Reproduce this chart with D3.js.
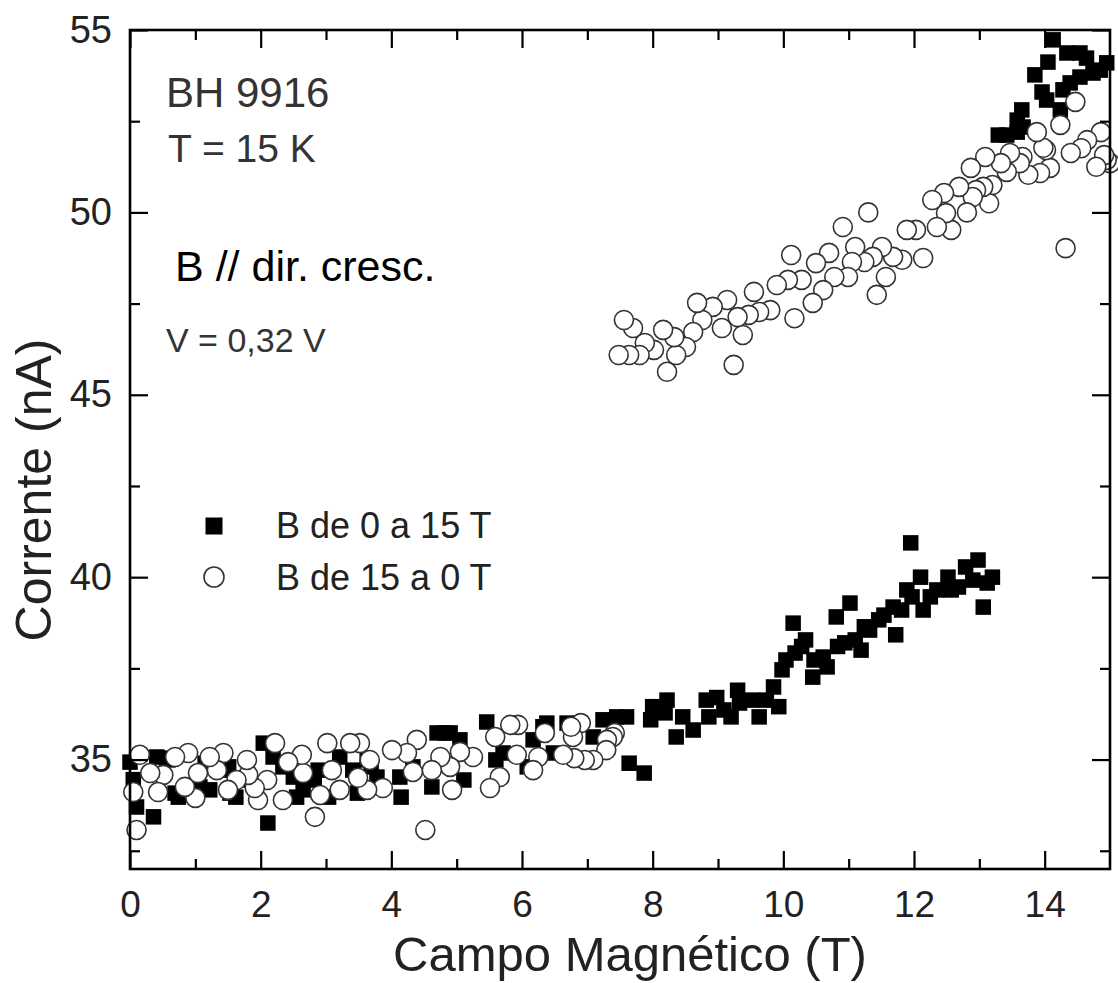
<!DOCTYPE html>
<html lang="pt">
<head>
    <meta charset="UTF-8">
    <title>Corrente x Campo Magnético</title>
    <script src="https://d3js.org/d3.v7.min.js"></script>
    <style>
        body { margin: 0; background: #fff; }
        text { font-family: "Liberation Sans", Arial, Helvetica, sans-serif; }
    </style>
</head>
<body>
<script>
    // B de 0 a 15 T (quadrados cheios)
    var subidaX = [0.00, 0.05, 0.10, 0.36, 0.41, 0.56, 0.58, 0.69, 0.74, 0.87, 1.07, 1.15, 1.22, 1.38, 1.51, 1.53, 1.62, 1.79,
        2.04, 2.11, 2.19, 2.34, 2.50, 2.55, 2.65, 2.82, 2.88, 3.04, 3.21, 3.41, 3.48, 3.63, 3.69, 3.78, 4.13, 4.15, 4.33,
        4.62, 4.70, 4.82, 4.90, 5.05, 5.11, 5.46, 5.60, 5.71, 6.08, 6.17, 6.32, 6.38, 6.48, 6.69, 6.89, 7.09, 7.24, 7.45,
        7.60, 7.64, 7.87, 7.97, 8.00, 8.19, 8.22, 8.36, 8.46, 8.62, 8.82, 8.86, 8.98, 9.09, 9.20, 9.30, 9.33, 9.52, 9.63,
        9.74, 9.85, 9.93, 9.98, 10.04, 10.15, 10.18, 10.28, 10.34, 10.45, 10.47, 10.61, 10.67, 10.81, 10.83, 10.94, 11.02,
        11.10, 11.19, 11.24, 11.32, 11.46, 11.54, 11.68, 11.72, 11.81, 11.89, 11.95, 11.97, 12.10, 12.14, 12.25, 12.35,
        12.52, 12.57, 12.68, 12.79, 12.90, 12.98, 13.06, 13.12, 13.20,
        13.29, 13.42, 13.58, 13.58, 13.65, 13.67, 13.85, 13.96, 14.03, 14.05, 14.13, 14.24, 14.28, 14.34, 14.39, 14.54,
        14.54, 14.64, 14.74, 14.85, 14.95];
    var subidaY = [34.93, 34.45, 33.70, 33.43, 35.07, 35.04, 34.99, 34.08, 33.97, 34.25, 34.25, 34.90, 34.17, 34.71, 34.80, 34.08, 33.97, 34.44,
        35.45, 33.26, 35.07, 34.80, 34.52, 33.97, 34.17, 34.44, 34.71, 33.97, 35.07, 34.71, 34.08, 34.99, 34.80, 34.52, 34.52, 33.97, 34.80,
        34.25, 35.73, 35.73, 35.73, 35.54, 34.44, 36.03, 34.99, 35.18, 34.80, 35.54, 35.90, 36.00, 35.18, 36.00, 36.00, 35.62, 36.09, 36.17,
        36.17, 34.90, 34.63, 36.09, 36.45, 36.28, 36.63, 35.62, 36.17, 35.81, 36.63, 36.17, 36.70, 36.36, 36.17, 36.90, 36.55, 36.63, 36.17,
        36.63, 36.99, 36.45, 37.46, 37.73, 38.74, 37.92, 38.10, 38.28, 37.26, 37.73, 37.81, 37.54, 38.91, 38.10, 38.20, 39.29,
        38.28, 38.00, 38.64, 38.55, 38.83, 38.96, 39.18, 38.42, 39.10, 39.65, 40.94, 39.46, 40.00, 39.10, 39.46, 39.65,
        40.00, 39.65, 39.73, 40.28, 39.92, 40.47, 39.18, 39.84, 40.00,
        52.12, 52.12, 52.20, 52.53, 52.81, 52.34, 53.77, 53.30, 53.08, 54.12, 54.73, 52.81, 53.36, 54.37, 53.55, 54.37,
        53.71, 54.23, 53.82, 53.90, 54.10];

    // B de 15 a 0 T (círculos abertos)
    var descidaX = [15.00, 14.95, 14.91, 14.86, 14.79, 14.65, 14.56, 14.47, 14.40, 14.32, 14.24, 14.08, 14.02, 13.98, 13.93,
        13.88, 13.75, 13.66, 13.62, 13.47, 13.42, 13.33, 13.20, 13.15, 13.09, 13.06, 12.95, 12.90, 12.87, 12.81, 12.69,
        12.57, 12.49, 12.46, 12.35, 12.28, 12.14, 12.03, 11.89, 11.82, 11.68, 11.57, 11.51, 11.43, 11.37, 11.30, 11.24,
        11.10, 11.05, 10.99, 10.91, 10.78, 10.70, 10.61, 10.50, 10.45, 10.28, 10.17, 10.12, 10.07, 9.90, 9.80, 9.63, 9.55,
        9.47, 9.38, 9.30, 9.24, 9.14, 9.06, 8.92, 8.76, 8.68, 8.62, 8.51, 8.36, 8.33, 8.22, 8.16, 8.02, 7.88, 7.80, 7.70,
        7.64, 7.56, 7.48,
        7.42, 7.39, 7.30, 7.29, 7.09, 6.96, 6.90, 6.80, 6.78, 6.75, 6.63, 6.35, 6.25, 6.17, 5.94, 5.92, 5.82, 5.66, 5.59,
        5.51, 5.25, 5.05, 4.93, 4.90, 4.75, 4.62, 4.52, 4.39, 4.33, 4.24, 4.01, 3.87, 3.67, 3.63, 3.52, 3.49, 3.37, 3.21,
        3.09, 3.02, 2.91, 2.83, 2.65, 2.63, 2.42, 2.34, 2.22, 2.10, 1.96, 1.91, 1.81, 1.79, 1.63, 1.50, 1.43, 1.33, 1.22,
        1.04, 1.00, 0.89, 0.84, 0.69, 0.51, 0.43, 0.31, 0.15, 0.10, 0.05];
    var descidaY = [51.35, 51.44, 51.57, 52.20, 51.25, 51.98, 51.76, 53.03, 51.63, 49.02, 52.40, 51.22, 51.71, 51.77, 51.08,
        52.20, 51.03, 51.52, 51.35, 51.63, 51.11, 51.35, 50.75, 50.25, 51.52, 50.70, 50.61, 50.42, 51.22, 50.00, 50.70,
        49.52, 49.98, 50.53, 49.60, 50.34, 48.75, 49.52, 49.52, 48.70, 48.78, 48.23, 49.05, 47.74, 48.78, 50.00, 48.64,
        49.05, 48.64, 48.23, 49.60, 48.23, 48.89, 47.87, 48.61, 47.52, 48.15, 47.10, 48.83, 48.15, 48.01, 47.32, 47.27, 47.82,
        47.19, 46.64, 47.13, 45.82, 47.60, 46.83, 47.41, 47.05, 47.52, 46.72, 46.31, 46.09, 46.58, 45.63, 46.78, 46.23, 46.42, 46.09, 46.83,
        46.09, 47.05, 46.09,
        35.73, 35.62, 35.54, 35.26, 34.99, 34.99, 36.00, 35.04, 35.62, 35.90, 35.13, 35.73, 35.07, 34.71, 35.95, 35.13, 35.95, 34.52, 35.62,
        34.22, 35.07, 35.21, 34.17, 34.80, 35.07, 34.71, 33.07, 35.54, 34.66, 35.18, 35.26, 34.22, 34.99, 34.17, 35.45, 34.50, 35.45, 34.17,
        34.71, 35.45, 34.03, 33.43, 34.63, 35.13, 34.93, 33.89, 35.45, 34.44, 33.89, 34.22, 34.58, 34.99, 34.44, 34.17, 35.18, 34.71, 35.07,
        34.63, 33.95, 35.18, 34.25, 35.07, 34.58, 34.11, 34.63, 35.13, 33.07, 34.11];

    // marcas dos eixos
    var ticksX = [0, 2, 4, 6, 8, 10, 12, 14];
    var ticksXMenor = [1, 3, 5, 7, 9, 11, 13];
    var ticksY = [35, 40, 45, 50, 55];
    var ticksYMenor = [32.5, 37.5, 42.5, 47.5, 52.5];

    // textos
    var tituloX = 'Campo Magnético (T)';
    var tituloY = 'Corrente (nA)';
    var legenda = ['B de 0 a 15 T', 'B de 15 a 0 T'];
    var notas = ['BH 9916', 'T = 15 K', 'B // dir. cresc.', 'V = 0,32 V'];

    var width = 1118;
    var height = 983;
    var padding = {top: 30, right: 8, bottom: 114, left: 130};
    var plotW = width - padding.left - padding.right;
    var plotH = height - padding.top - padding.bottom;

    var svg = d3.select('body').append('svg').attr('width', width).attr('height', height);
    var g = svg.append('g').attr('transform', 'translate(' + padding.left + ',' + padding.top + ')');

    var x = d3.scaleLinear().domain([0, 15]).range([0, plotW]);
    var y = d3.scaleLinear().domain([32, 55]).range([plotH, 0]);

    var subida = subidaX.map((d, i) => ({x: d, y: subidaY[i]}));
    var descida = descidaX.map((d, i) => ({x: d, y: descidaY[i]}));

    // quadrados cheios
    var lado = 15.5;
    g.append('g').selectAll('rect').data(subida).enter().append('rect')
        .attr('x', d => x(d.x) - lado / 2)
        .attr('y', d => y(d.y) - lado / 2)
        .attr('width', lado)
        .attr('height', lado)
        .attr('fill', '#000');

    // circulos abertos
    g.append('g').selectAll('circle').data(descida).enter().append('circle')
        .attr('cx', d => x(d.x))
        .attr('cy', d => y(d.y))
        .attr('r', 9.5)
        .attr('fill', '#fff')
        .attr('stroke', '#333')
        .attr('stroke-width', 1.6);

    // eixos (marcas para dentro, nos quatro lados)
    function eixo(gen, tr, vals, size, labels) {
        var a = g.append('g').attr('transform', tr)
            .call(gen.tickValues(vals).tickSize(-size).tickSizeOuter(0)
                .tickFormat(labels ? d3.format('d') : ''));
        a.select('.domain').remove();
        a.selectAll('line').attr('stroke', '#000').attr('stroke-width', 2.2);
        return a;
    }
    var bx = eixo(d3.axisBottom(x).tickPadding(22), 'translate(0,' + plotH + ')', ticksX, 18, true);
    eixo(d3.axisBottom(x), 'translate(0,' + plotH + ')', ticksXMenor, 10, false);
    eixo(d3.axisTop(x), 'translate(0,0)', ticksX, 18, false);
    eixo(d3.axisTop(x), 'translate(0,0)', ticksXMenor, 10, false);
    var ly = eixo(d3.axisLeft(y).tickPadding(18), 'translate(0,0)', ticksY, 18, true);
    eixo(d3.axisLeft(y), 'translate(0,0)', ticksYMenor, 10, false);
    eixo(d3.axisRight(y), 'translate(' + plotW + ',0)', ticksY, 18, false);
    eixo(d3.axisRight(y), 'translate(' + plotW + ',0)', ticksYMenor, 10, false);

    bx.selectAll('text').attr('font-size', 37).attr('fill', '#222')
        .style('font-family', '"Liberation Sans", Arial, sans-serif');
    ly.selectAll('text').attr('font-size', 38).attr('fill', '#222')
        .style('font-family', '"Liberation Sans", Arial, sans-serif');

    // moldura
    g.append('rect')
        .attr('x', 0).attr('y', 0)
        .attr('width', plotW).attr('height', plotH)
        .attr('fill', 'none')
        .attr('stroke', '#000')
        .attr('stroke-width', 2.6);

    // titulos dos eixos
    svg.append('text')
        .attr('x', 630)
        .attr('y', 971)
        .attr('text-anchor', 'middle')
        .attr('font-size', 49)
        .attr('fill', '#222')
        .text(tituloX);
    svg.append('text')
        .attr('transform', 'translate(51,' + 490 + ') rotate(-90)')
        .attr('text-anchor', 'middle')
        .attr('font-size', 50)
        .attr('fill', '#222')
        .text(tituloY);

    // anotacoes
    svg.append('text').attr('x', 166).attr('y', 107).attr('font-size', 42).attr('fill', '#333').text(notas[0]);
    svg.append('text').attr('x', 168).attr('y', 162).attr('font-size', 39).attr('fill', '#333').text(notas[1]);
    svg.append('text').attr('x', 175).attr('y', 281).attr('font-size', 43).attr('fill', '#000').text(notas[2]);
    svg.append('text').attr('x', 166).attr('y', 352).attr('font-size', 34).attr('fill', '#333').text(notas[3]);

    // legenda
    var leg = svg.append('g');
    leg.append('rect')
        .attr('x', 214 - 8.5).attr('y', 526 - 8.5)
        .attr('width', 17).attr('height', 17)
        .attr('fill', '#000');
    leg.append('circle')
        .attr('cx', 214).attr('cy', 577)
        .attr('r', 10)
        .attr('fill', '#fff')
        .attr('stroke', '#333')
        .attr('stroke-width', 1.6);
    leg.selectAll('text').data(legenda).enter().append('text')
        .attr('x', 276)
        .attr('y', (d, i) => 538 + i * 52)
        .attr('font-size', 36)
        .attr('fill', '#222')
        .text(d => d);
</script>
</body>
</html>
